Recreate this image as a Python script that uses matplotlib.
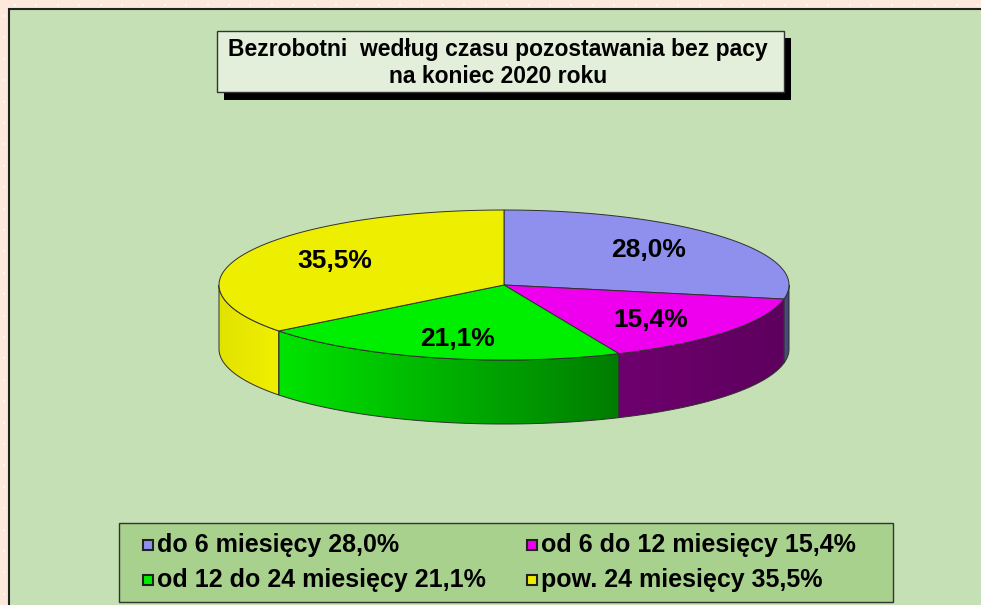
import numpy as np
import matplotlib
matplotlib.use("Agg")
import matplotlib.pyplot as plt
from matplotlib.patches import Rectangle, Polygon
from matplotlib.colors import LinearSegmentedColormap

plt.rcParams["font.family"] = ["Liberation Sans", "DejaVu Sans"]

# data
TITLE = "Bezrobotni  według czasu pozostawania bez pacy\nna koniec 2020 roku"
labels = ["do 6 miesięcy", "od 6 do 12 miesięcy", "od 12 do 24 miesięcy", "pow. 24 miesięcy"]
shares = [28.0, 15.4, 21.1, 35.5]

# colours: top face, side (left -> right gradient)
TOP   = ["#8f8fee", "#ee00ee", "#00ee00", "#eeee00"]
SIDE  = [("#50508a", "#404070"), ("#6e006e", "#5e005e"),
         ("#00e400", "#007c00"), ("#e2e200", "#f0f000")]
EDGE  = "#303030"

def pct(v):
    return f"{v:.1f}%".replace(".", ",")

W, H = 981, 605
fig = plt.figure(figsize=(W / 100, H / 100), dpi=100)
ax = fig.add_axes([0, 0, 1, 1])
ax.axis("off")
fig.patch.set_facecolor("#fde8dc")

# dotted page background
gx, gy = np.meshgrid(np.arange(15, W, 21.4), np.arange(5, H, 21.4))
ax.scatter(gx.ravel(), gy.ravel(), s=4, marker="s", c="#fff8f2", lw=0, zorder=0)
gx, gy = np.meshgrid(np.arange(4, W, 21.4), np.arange(16, H, 21.4))
ax.scatter(gx.ravel(), gy.ravel(), s=4, marker="s", c="#fff8f2", lw=0, zorder=0)

# green panel
ax.add_patch(Rectangle((7.5, 9), W, H, fc="#9a9a9a", ec="none", zorder=1))
ax.add_patch(Rectangle((9, 9), W, H, fc="#c5e0b4", ec="#222222", lw=1.5, zorder=1))

# title box with shadow
ax.add_patch(Rectangle((224, 38), 567, 62, fc="black", ec="none", zorder=5))
ax.add_patch(Rectangle((217, 31), 567, 61, fc="#e3efda", ec="#333333", lw=1, zorder=6))
ax.text(498, 63, TITLE, ha="center", va="center", fontsize=16.5, fontweight="bold",
        linespacing=1.25, zorder=7)

# 3-D pie
CX, CY, A, B, DEPTH = 504, 285, 285, 75, 64

def ell(th):
    return CX + A * np.cos(th), CY - B * np.sin(th)

fracs = np.array(shares) / sum(shares)
starts = 90 - 360 * np.concatenate([[0], np.cumsum(fracs)[:-1]])
ends = starts - 360 * fracs

grad = np.linspace(0, 1, 256).reshape(1, -1)
for s, e, (cl, cr) in zip(starts, ends, SIDE):
    lo, hi = max(e, -180), min(s, 0)
    if hi <= lo:
        continue
    th = np.radians(np.linspace(hi, lo, 120))
    xs, ys = ell(th)
    verts = np.column_stack([np.r_[xs, xs[::-1]], np.r_[ys, ys[::-1] + DEPTH]])
    poly = Polygon(verts, closed=True, fc="none", ec=EDGE, lw=0.7, zorder=3)
    ax.add_patch(poly)
    cmap = LinearSegmentedColormap.from_list("side", [cl, cr])
    im = ax.imshow(grad, cmap=cmap, aspect="auto", zorder=2,
                   extent=(xs.min(), xs.max(), ys.max() + DEPTH, ys.min()))
    im.set_clip_path(poly)

for s, e, c in zip(starts, ends, TOP):
    th = np.radians(np.linspace(s, e, 150))
    xs, ys = ell(th)
    verts = np.column_stack([np.r_[CX, xs], np.r_[CY, ys]])
    ax.add_patch(Polygon(verts, closed=True, fc=c, ec=EDGE, lw=0.7, zorder=4))

# value labels
for s, e, v in zip(starts, ends, shares):
    m = np.radians((s + e) / 2)
    ax.text(CX + A * 0.66 * np.cos(m), CY - B * 0.74 * np.sin(m), pct(v),
            ha="center", va="center", fontsize=19, fontweight="bold", zorder=8)

# legend box
ax.add_patch(Rectangle((119, 523), 774, 79, fc="#a9d18e", ec="#333333", lw=1, zorder=5))
lx = [148, 532]
ly = [545, 580]
for i, (lab, v, c) in enumerate(zip(labels, shares, TOP)):
    x, y = lx[i % 2], ly[i // 2]
    ax.add_patch(Rectangle((x - 5, y - 5), 10, 10, fc=c, ec="#222222", lw=1.5, zorder=6))
    ax.text(x + 9, y, f"{lab} {pct(v)}", ha="left", va="center",
            fontsize=18, fontweight="bold", zorder=6)

ax.set_xlim(0, W)
ax.set_ylim(H, 0)
fig.savefig("out.png", dpi=100, facecolor=fig.get_facecolor())
